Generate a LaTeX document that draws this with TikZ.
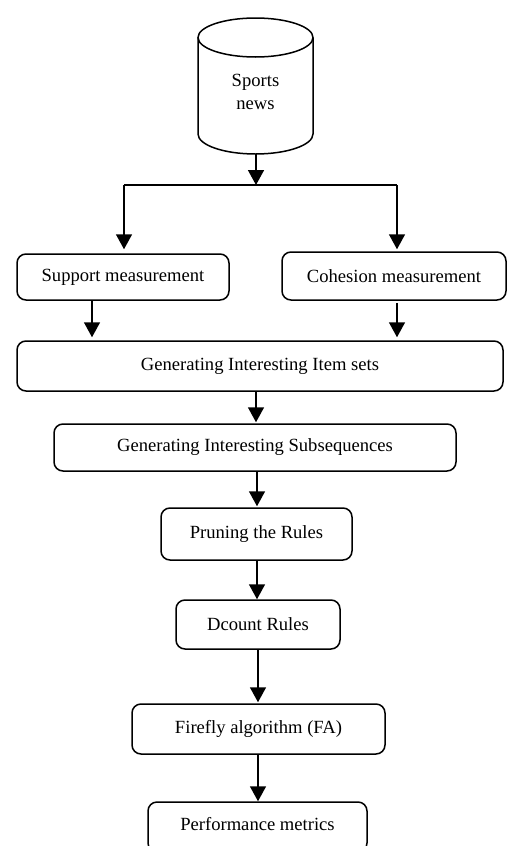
\documentclass[tikz,border=0pt]{standalone}
\usepackage{fontspec}
\setmainfont{Liberation Serif}
\usetikzlibrary{arrows.meta}
\tikzset{
  box/.style={draw, line width=1.5pt, rounded corners=9pt, inner sep=0pt, align=center},
  conn/.style={line width=1.6pt},
  arr/.style={line width=1.6pt, -{Triangle[length=15pt,width=16pt]}},
}
\begin{document}
\begin{tikzpicture}[x=1pt,y=1pt,font=\fontsize{18.6}{23}\selectfont]
\useasboundingbox (0,0) rectangle (507,-846);
\clip (0,0) rectangle (507,-846);
% cylinder
\draw[line width=1.5pt] (255.5,-37.5) ellipse[x radius=57.5pt, y radius=19.5pt];
\draw[line width=1.5pt] (198,-37.5) -- (198,-134)
  arc[start angle=180, end angle=360, x radius=57.5pt, y radius=20pt]
  -- (313,-37.5);
\node (news) at (255.5,-92) [align=center] {Sports\\news};
\coordinate (cylb) at (256,-154);
% boxes
\node[box, minimum width=212pt, minimum height=46pt] (supp) at (123,-277) {Support measurement};
\node[box, minimum width=224pt, minimum height=48pt] (coh) at (394,-276) {Cohesion measurement};
\node[box, minimum width=486pt, minimum height=50pt] (items) at (260,-366) {Generating Interesting Item sets};
\node[box, minimum width=402pt, minimum height=47pt] (subs) at (255,-447.5) {Generating Interesting Subsequences};
\node[box, minimum width=191pt, minimum height=52pt] (prune) at (256.5,-534) {Pruning the Rules};
\node[box, minimum width=164pt, minimum height=49pt] (dcount) at (258,-624.5) {Dcount Rules};
\node[box, minimum width=253pt, minimum height=50pt] (fire) at (258.5,-729) {Firefly algorithm (FA)};
\node[box, minimum width=219pt, minimum height=50pt] (perf) at (257.5,-827) {};
\node (perftext) at (257.5,-824) {Performance metrics};
% splitting connector
\coordinate (j) at (256,-185);
\coordinate (jl) at (124,-185);
\coordinate (jr) at (397,-185);
\draw[arr] (cylb) -- (j);
\draw[conn] (jl) -- (jr);
\draw[arr] (jl) -- ([yshift=4pt]jl |- supp.north);
\draw[arr] (jr) -- ([yshift=2pt]jr |- coh.north);
% lower connectors
\coordinate (a1) at (92,0);
\coordinate (a2) at (397,0);
\draw[arr] (supp.south -| a1) -- ([yshift=3pt]items.north -| a1);
\draw[arr] ([yshift=-2pt]coh.south -| a2) -- ([yshift=3pt]items.north -| a2);
\coordinate (b1) at (256,0);
\draw[arr] (items.south -| b1) -- ([yshift=1pt]subs.north -| b1);
\coordinate (b2) at (257,0);
\draw[arr] (subs.south -| b2) -- ([yshift=1pt]prune.north -| b2);
\draw[arr] (prune.south -| b2) -- (dcount.north -| b2);
\coordinate (b3) at (258,0);
\draw[arr] (dcount.south -| b3) -- ([yshift=1pt]fire.north -| b3);
\draw[arr] (fire.south -| b3) -- (perf.north -| b3);
\end{tikzpicture}
\end{document}
